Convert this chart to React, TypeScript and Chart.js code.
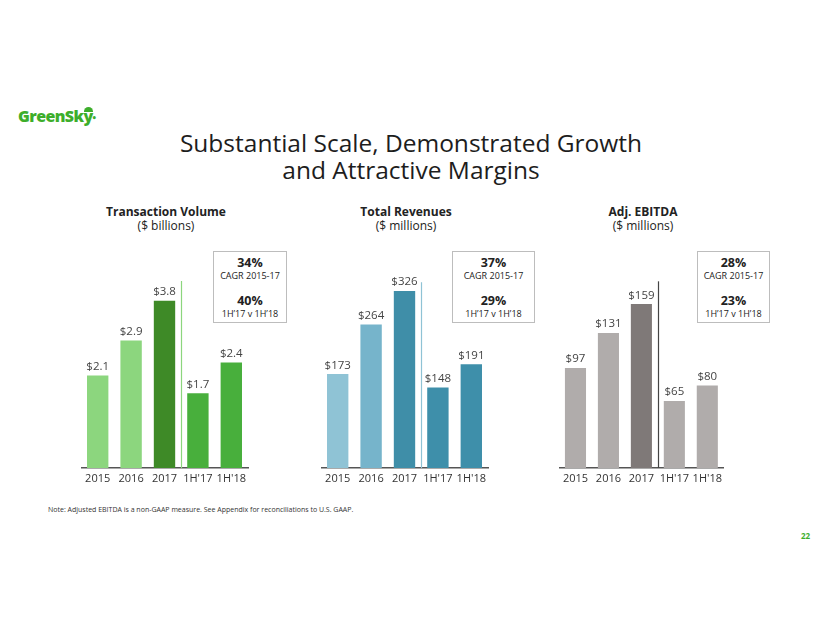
import React, { useEffect, useRef } from "react";
import { Chart, registerables } from "chart.js";

Chart.register(...registerables);

const categories = ["2015", "2016", "2017", "1H'17", "1H'18"];

const volumeValues = [2.1, 2.9, 3.8, 1.7, 2.4];
const volumeLabels = ["$2.1", "$2.9", "$3.8", "$1.7", "$2.4"];

const revenueValues = [173, 264, 326, 148, 191];
const revenueLabels = ["$173", "$264", "$326", "$148", "$191"];

const ebitdaValues = [97, 131, 159, 65, 80];
const ebitdaLabels = ["$97", "$131", "$159", "$65", "$80"];

const FONT = "'Open Sans', 'Noto Sans', sans-serif";

type Panel = {
  key: string;
  title: string;
  unit: string;
  values: number[];
  labels: string[];
  colors: string[];
  yMax: number;
  sepTop: number;
  sepColor: string;
  left: number;
  width: number;
  titleCenter: number;
  cagr: string;
  growth: string;
  boxLeft: number;
  boxWidth: number;
};

const panels: Panel[] = [
  {
    key: "vol",
    title: "Transaction Volume",
    unit: "($ billions)",
    values: volumeValues,
    labels: volumeLabels,
    colors: ["#8CD67E", "#8CD67E", "#3E8A27", "#48AF3C", "#48AF3C"],
    yMax: 5.0,
    sepTop: 4.25,
    sepColor: "#8CD67E",
    left: 81,
    width: 169,
    titleCenter: 166,
    cagr: "34%",
    growth: "40%",
    boxLeft: 213,
    boxWidth: 74,
  },
  {
    key: "rev",
    title: "Total Revenues",
    unit: "($ millions)",
    values: revenueValues,
    labels: revenueLabels,
    colors: ["#8FC3D5", "#76B4CB", "#3F8EA8", "#3E8FAA", "#3E8FAA"],
    yMax: 405,
    sepTop: 342,
    sepColor: "#8FC3D5",
    left: 321,
    width: 169,
    titleCenter: 406,
    cagr: "37%",
    growth: "29%",
    boxLeft: 452,
    boxWidth: 83,
  },
  {
    key: "ebitda",
    title: "Adj. EBITDA",
    unit: "($ millions)",
    values: ebitdaValues,
    labels: ebitdaLabels,
    colors: ["#B0ACAB", "#B0ACAB", "#7F7978", "#B0ACAB", "#B0ACAB"],
    yMax: 213.3,
    sepTop: 181,
    sepColor: "#444444",
    left: 559,
    width: 167,
    titleCenter: 643,
    cagr: "28%",
    growth: "23%",
    boxLeft: 697,
    boxWidth: 73,
  },
];

const CANVAS_TOP = 200;
const PAD_TOP = 48;
const AXIS_H = 30;
const CANVAS_H = 468 - CANVAS_TOP + AXIS_H;

function BarPanel({ p }: { p: Panel }) {
  const ref = useRef<HTMLCanvasElement | null>(null);
  useEffect(() => {
    if (!ref.current) return;
    const labelPlugin = {
      id: "valueLabels",
      afterDatasetsDraw(chart: any) {
        const ctx = chart.ctx;
        const meta = chart.getDatasetMeta(0);
        ctx.save();
        ctx.font = `11.5px ${FONT}`;
        ctx.fillStyle = "#444";
        ctx.textAlign = "center";
        ctx.textBaseline = "bottom";
        meta.data.forEach((bar: any, i: number) => {
          ctx.fillText(p.labels[i], bar.x, bar.y - 3);
        });
        // separator line between 2017 and 1H'17
        const xs = chart.scales.x;
        const ys = chart.scales.y;
        const sx = Math.round((xs.getPixelForValue(2) + xs.getPixelForValue(3)) / 2) + 0.5;
        ctx.strokeStyle = p.sepColor;
        ctx.lineWidth = 1.2;
        ctx.beginPath();
        ctx.moveTo(sx, ys.getPixelForValue(p.sepTop));
        ctx.lineTo(sx, ys.getPixelForValue(0));
        ctx.stroke();
        ctx.restore();
      },
    };
    const chart = new Chart(ref.current, {
      type: "bar",
      data: {
        labels: categories,
        datasets: [
          {
            data: p.values,
            backgroundColor: p.colors,
            borderWidth: 0,
            categoryPercentage: 1,
            barPercentage: 0.64,
          },
        ],
      },
      options: {
        responsive: false,
        animation: false,
        maintainAspectRatio: false,
        layout: { padding: { top: PAD_TOP, left: 0, right: 0, bottom: 0 } },
        plugins: { legend: { display: false }, tooltip: { enabled: false } },
        scales: {
          x: {
            grid: { display: false, drawTicks: false },
            border: { display: true, color: "#555", width: 1.5 },
            ticks: {
              color: "#333",
              font: { family: FONT, size: 11 },
              padding: 4,
              maxRotation: 0,
              autoSkip: false,
            },
            afterFit: (scale: any) => {
              scale.height = AXIS_H;
            },
          },
          y: {
            display: false,
            min: 0,
            max: p.yMax,
          },
        },
      },
      plugins: [labelPlugin],
    });
    return () => chart.destroy();
  }, [p]);
  return (
    <canvas
      ref={ref}
      width={p.width}
      height={CANVAS_H}
      style={{ position: "absolute", left: p.left, top: CANVAS_TOP, width: p.width, height: CANVAS_H }}
    />
  );
}

export default function App() {
  return (
    <div
      style={{
        position: "absolute",
        left: 0,
        top: 0,
        width: 822,
        height: 635,
        background: "#fff",
        fontFamily: FONT,
        overflow: "hidden",
      }}
    >
      {/* Logo */}
      <div
        style={{
          position: "absolute",
          left: 18,
          top: 105,
          fontSize: 16,
          fontWeight: 800,
          color: "#3DAE2B",
          letterSpacing: -0.6,
        }}
      >
        GreenSky
        <span
          style={{
            position: "absolute",
            left: 66,
            top: 2,
            width: 9,
            height: 5,
            background: "#3DAE2B",
            borderRadius: "5px 5px 0 0",
          }}
        />
        <span style={{ fontSize: 9, verticalAlign: "middle" }}>•</span>
      </div>

      {/* Main title */}
      <div
        style={{
          position: "absolute",
          left: 0,
          width: 822,
          top: 129,
          textAlign: "center",
          fontSize: 24.5,
          lineHeight: "27px",
          color: "#1d1d1d",
        }}
      >
        Substantial Scale, Demonstrated Growth
        <br />
        and Attractive Margins
      </div>

      {panels.map((p) => (
        <React.Fragment key={p.key}>
          <div
            style={{
              position: "absolute",
              left: p.titleCenter - 100,
              width: 200,
              top: 205,
              textAlign: "center",
              fontSize: 12,
              lineHeight: "14px",
              color: "#222",
            }}
          >
            <div style={{ fontWeight: 700 }}>{p.title}</div>
            <div>{p.unit}</div>
          </div>
          <BarPanel p={p} />
          <div
            style={{
              position: "absolute",
              left: p.boxLeft,
              top: 251,
              width: p.boxWidth - 2,
              height: 70,
              border: "1px solid #bdbdbd",
              background: "#fff",
              textAlign: "center",
              color: "#222",
            }}
          >
            <div style={{ fontWeight: 700, fontSize: 12.5, marginTop: 3, lineHeight: "15px" }}>{p.cagr}</div>
            <div style={{ fontSize: 9, lineHeight: "12px" }}>CAGR 2015-17</div>
            <div style={{ fontWeight: 700, fontSize: 12.5, marginTop: 11, lineHeight: "15px" }}>{p.growth}</div>
            <div style={{ fontSize: 9, lineHeight: "12px" }}>1H’17 v 1H’18</div>
          </div>
        </React.Fragment>
      ))}

      {/* Note */}
      <div
        style={{
          position: "absolute",
          left: 48,
          top: 505,
          fontSize: 7,
          color: "#333",
          whiteSpace: "nowrap",
        }}
      >
        Note: Adjusted EBITDA is a non-GAAP measure. See Appendix for reconciliations to U.S. GAAP.
      </div>

      {/* Page number */}
      <div
        style={{
          position: "absolute",
          left: 801,
          top: 530,
          fontSize: 8,
          fontWeight: 700,
          color: "#3DAE2B",
        }}
      >
        22
      </div>
    </div>
  );
}
